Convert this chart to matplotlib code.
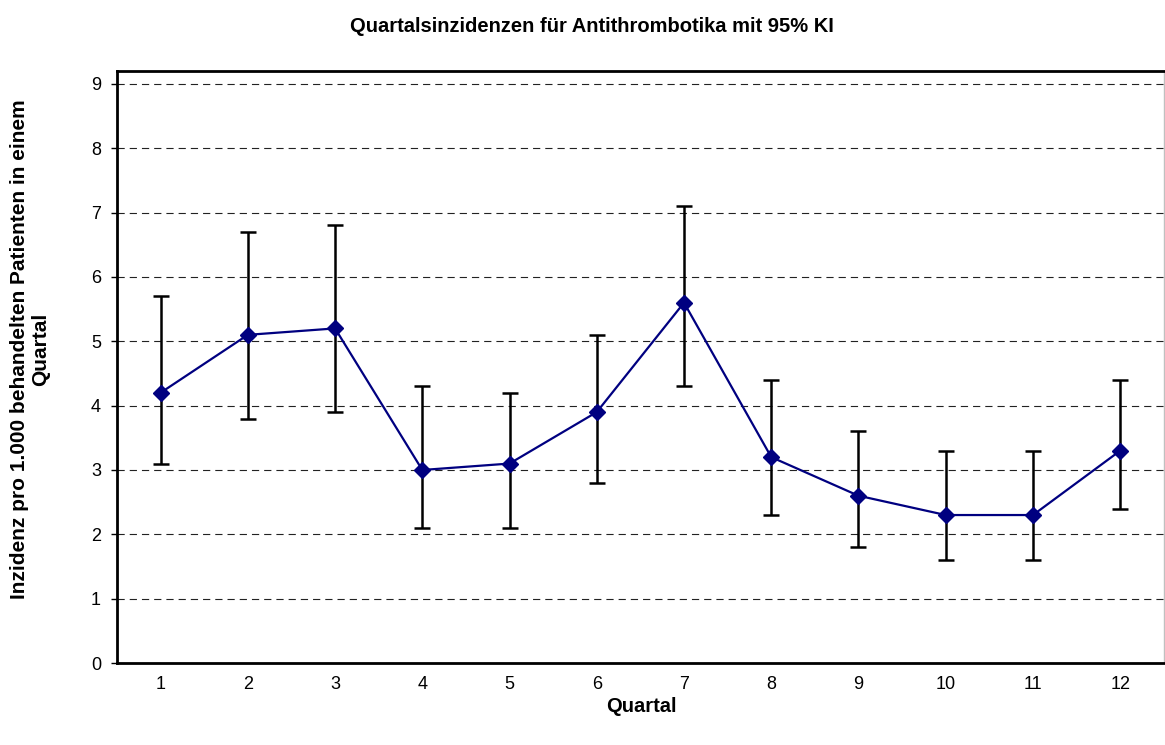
import numpy as np
import matplotlib.pyplot as plt

plt.rcParams['font.family'] = ['Liberation Sans', 'DejaVu Sans']

# Quartalsinzidenzen mit 95% KI
quartal = [1, 2, 3, 4, 5, 6, 7, 8, 9, 10, 11, 12]
inzidenz = [4.2, 5.1, 5.2, 3.0, 3.1, 3.9, 5.6, 3.2, 2.6, 2.3, 2.3, 3.3]
ki_oben = [5.7, 6.7, 6.8, 4.3, 4.2, 5.1, 7.1, 4.4, 3.6, 3.3, 3.3, 4.4]
ki_unten = [3.1, 3.8, 3.9, 2.1, 2.1, 2.8, 4.3, 2.3, 1.8, 1.6, 1.6, 2.4]

inz = np.array(inzidenz)
err = [inz - np.array(ki_unten), np.array(ki_oben) - inz]

fig = plt.figure(figsize=(11.65, 7.45), dpi=100)
ax = fig.add_axes([0.1004, 0.110, 0.8986, 0.7947])

ax.errorbar(quartal, inzidenz, yerr=err, fmt='none', ecolor='black',
            elinewidth=1.8, capsize=5.8, capthick=1.8, zorder=2)
ax.plot(quartal, inzidenz, color='#000080', linewidth=1.6, marker='D',
        markersize=8, markerfacecolor='#000080', markeredgecolor='#000080', zorder=3)

ax.set_xlim(0.5, 12.5)
ax.set_ylim(0, 9.2)
ax.set_yticks(range(0, 10))
ax.set_xticks(quartal)
ax.yaxis.grid(True, linestyle=(0, (6.5, 4.5)), color='#222222', linewidth=0.8)
ax.set_axisbelow(True)

ax.tick_params(axis='x', length=0, pad=9, labelsize=13)
ax.tick_params(axis='y', length=4.5, width=1, direction='out', pad=7, labelsize=13)

for s in ['left', 'bottom', 'top']:
    ax.spines[s].set_linewidth(2)
ax.spines['right'].set_color('#c0c0c0')
ax.spines['right'].set_linewidth(1)

fig.text(641 / 1165, 1 - 706 / 745, 'Quartal', fontsize=14.5, fontweight='bold',
         ha='center', va='center')
fig.text(30 / 1165, 1 - 349 / 745,
         'Inzidenz pro 1.000 behandelten Patienten in einem\nQuartal',
         fontsize=15, fontweight='bold', rotation=90, ha='center', va='center',
         multialignment='center', linespacing=1.15)
fig.text(592 / 1165, 1 - 27 / 745, 'Quartalsinzidenzen für Antithrombotika mit 95% KI',
         fontsize=14.5, fontweight='bold', ha='center', va='center')

plt.savefig('out.png', dpi=100)
